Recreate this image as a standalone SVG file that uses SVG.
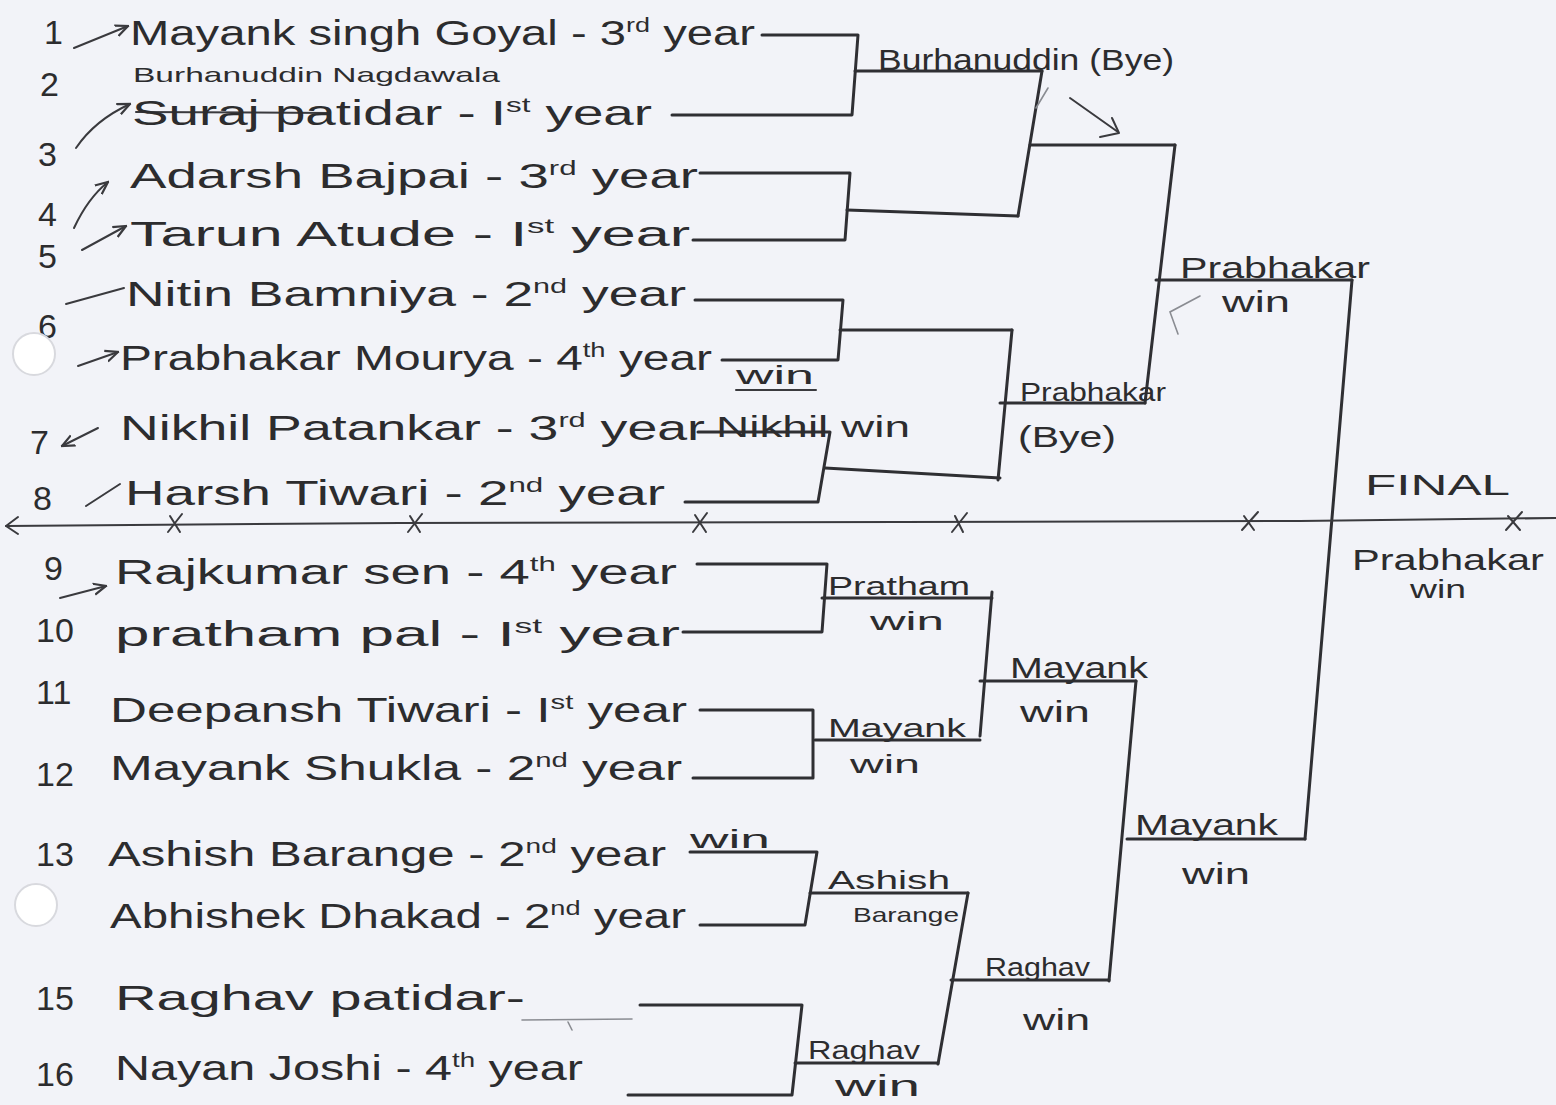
<svg xmlns="http://www.w3.org/2000/svg" width="1556" height="1105" viewBox="0 0 1556 1105">
<defs>
<style>
text{font-family:"Liberation Sans","DejaVu Sans",sans-serif;fill:#2c2c2e}
.nm{font-size:35px}
.num{font-size:34px}
.sm{font-size:21px}
.lb{font-size:29px}
.lbs{font-size:25px}
.sup{font-size:20px}
.ln{fill:none;stroke:#2f2f33;stroke-width:3;stroke-linecap:round;stroke-linejoin:round}
.thin{fill:none;stroke:#3a3a3e;stroke-width:2;stroke-linecap:round;stroke-linejoin:round}
.faint{fill:none;stroke:#8a8c92;stroke-width:1.6;stroke-linecap:round}
</style>
<marker id="ah" viewBox="0 0 10 10" refX="9" refY="5" markerWidth="7" markerHeight="7" orient="auto">
<path d="M0,1 L9,5 L0,9" fill="none" stroke="#3a3a3e" stroke-width="1.6"/>
</marker>
</defs>
<rect width="1556" height="1105" fill="#f2f3f8"/>

<!-- connectors -->
<g id="connectors">
<path class="ln" d="M762,35 H858 L852,115 H672"/>
<path class="ln" d="M855,71 H1042"/>
<path class="ln" d="M700,173 H850 L845,240 H693"/>
<path class="ln" d="M847,210 L1018,216"/>
<path class="ln" d="M695,300 H843 L838,360 H722"/>
<path class="ln" d="M840,330 H1012"/>
<path class="ln" d="M698,432 H830 L818,502 H685"/>
<path class="ln" d="M825,468 L1000,478"/>
<path class="ln" d="M1042,71 L1018,216"/>
<path class="ln" d="M1030,145 H1175"/>
<path class="ln" d="M1012,330 L998,480"/>
<path class="ln" d="M1000,403 H1145"/>
<path class="ln" d="M1175,145 L1145,403"/>
<path class="ln" d="M1156,280 H1352"/>
<path class="ln" d="M1352,280 L1305,839"/>
<path class="ln" d="M697,564 H827 L822,632 H683"/>
<path class="ln" d="M822,598 H992"/>
<path class="ln" d="M700,710 H813 L813,778 H693"/>
<path class="ln" d="M815,740 H980"/>
<path class="ln" d="M690,852 H817 L805,925 H700"/>
<path class="ln" d="M810,893 H968"/>
<path class="ln" d="M640,1005 H802 L792,1095 H628"/>
<path class="ln" d="M795,1063 H938"/>
<path class="ln" d="M992,592 L980,736"/>
<path class="ln" d="M980,681 H1136"/>
<path class="ln" d="M968,893 L938,1064"/>
<path class="ln" d="M951,980 H1109"/>
<path class="ln" d="M1136,681 L1109,981"/>
<path class="ln" d="M1127,839 H1305"/>
<!-- divider -->
<path class="thin" d="M6,526 L400,523 L900,522 L1300,521 L1556,518"/>
<path class="thin" d="M18,517 L6,526 L18,534"/>
<path class="thin" d="M168,532 L182,514 M170,516 L180,532"/>
<path class="thin" d="M408,532 L422,514 M410,516 L420,532"/>
<path class="thin" d="M693,532 L707,513 M695,515 L706,532"/>
<path class="thin" d="M952,532 L967,513 M955,516 L963,532"/>
<path class="thin" d="M1242,530 L1258,512 M1244,516 L1254,530"/>
<path class="thin" d="M1506,530 L1522,512 M1508,516 L1520,530"/>
<!-- arrow near Burhanuddin -->
<path class="thin" d="M1070,98 L1118,132"/>
<path class="thin" d="M1112,118 L1119,133 L1100,137"/>
<path class="faint" d="M1048,88 L1036,108"/>
<path class="faint" d="M1200,296 L1170,312 L1178,334"/>
<!-- number to name pointers -->
<path class="thin" d="M74,48 L128,26" marker-end="url(#ah)"/>
<path class="thin" d="M76,148 Q95,120 130,104" marker-end="url(#ah)"/>
<path class="thin" d="M74,228 Q88,198 108,182" marker-end="url(#ah)"/>
<path class="thin" d="M82,250 L126,226" marker-end="url(#ah)"/>
<path class="thin" d="M66,304 L124,288"/>
<path class="thin" d="M78,366 L118,352" marker-end="url(#ah)"/>
<path class="thin" d="M98,428 L62,446" marker-end="url(#ah)"/>
<path class="thin" d="M86,506 L120,484"/>
<path class="thin" d="M60,598 L106,586" marker-end="url(#ah)"/>
<path class="thin" d="M136,112 L330,113"/>
<path class="thin" d="M736,390 H816"/>
<path class="faint" d="M522,1020 L632,1019 M568,1022 L572,1030"/>
</g>

<!-- participants -->
<g id="p1"><text class="num" x="44" y="44">1</text>
<text class="nm" x="130" y="45" textLength="625" lengthAdjust="spacingAndGlyphs">Mayank singh Goyal - 3<tspan class="sup" dy="-13">rd</tspan><tspan dy="13"> year</tspan></text></g>
<g id="p2"><text class="num" x="40" y="96">2</text>
<text class="sm" x="133" y="82" textLength="367" lengthAdjust="spacingAndGlyphs">Burhanuddin Nagdawala</text>
<text class="nm" x="132" y="125" textLength="520" lengthAdjust="spacingAndGlyphs">Suraj patidar - I<tspan class="sup" dy="-13">st</tspan><tspan dy="13"> year</tspan></text></g>
<g id="p3"><text class="num" x="38" y="166">3</text>
<text class="nm" x="130" y="188" textLength="568" lengthAdjust="spacingAndGlyphs">Adarsh Bajpai - 3<tspan class="sup" dy="-13">rd</tspan><tspan dy="13"> year</tspan></text></g>
<g id="p4"><text class="num" x="38" y="226">4</text>
<text class="nm" x="130" y="246" textLength="560" lengthAdjust="spacingAndGlyphs">Tarun Atude - I<tspan class="sup" dy="-13">st</tspan><tspan dy="13"> year</tspan></text></g>
<g id="p5"><text class="num" x="38" y="268">5</text>
<text class="nm" x="126" y="306" textLength="560" lengthAdjust="spacingAndGlyphs">Nitin Bamniya - 2<tspan class="sup" dy="-13">nd</tspan><tspan dy="13"> year</tspan></text></g>
<g id="p6"><text class="num" x="38" y="338">6</text>
<text class="nm" x="120" y="370" textLength="592" lengthAdjust="spacingAndGlyphs">Prabhakar Mourya - 4<tspan class="sup" dy="-13">th</tspan><tspan dy="13"> year</tspan></text>
<text class="lbs" x="736" y="384" textLength="78" lengthAdjust="spacingAndGlyphs">win</text></g>
<g id="p7"><text class="num" x="30" y="454">7</text>
<text class="nm" x="120" y="440" textLength="585" lengthAdjust="spacingAndGlyphs">Nikhil Patankar - 3<tspan class="sup" dy="-13">rd</tspan><tspan dy="13"> year</tspan></text>
<text class="lb" x="716" y="437" textLength="194" lengthAdjust="spacingAndGlyphs">Nikhil win</text></g>
<g id="p8"><text class="num" x="33" y="510">8</text>
<text class="nm" x="125" y="505" textLength="540" lengthAdjust="spacingAndGlyphs">Harsh Tiwari - 2<tspan class="sup" dy="-13">nd</tspan><tspan dy="13"> year</tspan></text></g>
<g id="p9"><text class="num" x="44" y="580">9</text>
<text class="nm" x="115" y="584" textLength="562" lengthAdjust="spacingAndGlyphs">Rajkumar sen - 4<tspan class="sup" dy="-13">th</tspan><tspan dy="13"> year</tspan></text></g>
<g id="p10"><text class="num" x="36" y="642">10</text>
<text class="nm" x="115" y="646" textLength="565" lengthAdjust="spacingAndGlyphs">pratham pal - I<tspan class="sup" dy="-13">st</tspan><tspan dy="13"> year</tspan></text></g>
<g id="p11"><text class="num" x="36" y="704">11</text>
<text class="nm" x="110" y="722" textLength="577" lengthAdjust="spacingAndGlyphs">Deepansh Tiwari - I<tspan class="sup" dy="-13">st</tspan><tspan dy="13"> year</tspan></text></g>
<g id="p12"><text class="num" x="36" y="786">12</text>
<text class="nm" x="110" y="780" textLength="572" lengthAdjust="spacingAndGlyphs">Mayank Shukla - 2<tspan class="sup" dy="-13">nd</tspan><tspan dy="13"> year</tspan></text></g>
<g id="p13"><text class="num" x="36" y="866">13</text>
<text class="nm" x="108" y="866" textLength="558" lengthAdjust="spacingAndGlyphs">Ashish Barange - 2<tspan class="sup" dy="-13">nd</tspan><tspan dy="13"> year</tspan></text>
<text class="lbs" x="690" y="848" textLength="80" lengthAdjust="spacingAndGlyphs">win</text></g>
<g id="p14">
<text class="nm" x="110" y="928" textLength="576" lengthAdjust="spacingAndGlyphs">Abhishek Dhakad - 2<tspan class="sup" dy="-13">nd</tspan><tspan dy="13"> year</tspan></text></g>
<g id="p15"><text class="num" x="36" y="1010">15</text>
<text class="nm" x="115" y="1010" textLength="410" lengthAdjust="spacingAndGlyphs">Raghav patidar-</text></g>
<g id="p16"><text class="num" x="36" y="1086">16</text>
<text class="nm" x="115" y="1080" textLength="468" lengthAdjust="spacingAndGlyphs">Nayan Joshi - 4<tspan class="sup" dy="-13">th</tspan><tspan dy="13"> year</tspan></text></g>

<!-- winners -->
<g id="w-burhanuddin"><text class="lb" x="878" y="70" textLength="296" lengthAdjust="spacingAndGlyphs">Burhanuddin (Bye)</text></g>
<g id="w-prabhakar-bye"><text class="lbs" x="1020" y="401" textLength="146" lengthAdjust="spacingAndGlyphs">Prabhakar</text>
<text class="lb" x="1018" y="447" textLength="98" lengthAdjust="spacingAndGlyphs">(Bye)</text></g>
<g id="w-prabhakar-semi"><text class="lb" x="1180" y="278" textLength="190" lengthAdjust="spacingAndGlyphs">Prabhakar</text>
<text class="lb" x="1222" y="312" textLength="68" lengthAdjust="spacingAndGlyphs">win</text></g>
<g id="w-final"><text class="lb" x="1365" y="495" textLength="145" lengthAdjust="spacingAndGlyphs">FINAL</text>
<text class="lb" x="1352" y="570" textLength="192" lengthAdjust="spacingAndGlyphs">Prabhakar</text>
<text class="lbs" x="1410" y="598" textLength="56" lengthAdjust="spacingAndGlyphs">win</text></g>
<g id="w-pratham"><text class="lbs" x="828" y="595" textLength="142" lengthAdjust="spacingAndGlyphs">Pratham</text>
<text class="lbs" x="870" y="630" textLength="74" lengthAdjust="spacingAndGlyphs">win</text></g>
<g id="w-mayank-r1"><text class="lbs" x="828" y="737" textLength="138" lengthAdjust="spacingAndGlyphs">Mayank</text>
<text class="lbs" x="850" y="773" textLength="70" lengthAdjust="spacingAndGlyphs">win</text></g>
<g id="w-mayank-r2"><text class="lb" x="1010" y="678" textLength="138" lengthAdjust="spacingAndGlyphs">Mayank</text>
<text class="lb" x="1020" y="722" textLength="70" lengthAdjust="spacingAndGlyphs">win</text></g>
<g id="w-mayank-r3"><text class="lb" x="1135" y="835" textLength="143" lengthAdjust="spacingAndGlyphs">Mayank</text>
<text class="lb" x="1182" y="884" textLength="68" lengthAdjust="spacingAndGlyphs">win</text></g>
<g id="w-ashish"><text class="lbs" x="828" y="889" textLength="122" lengthAdjust="spacingAndGlyphs">Ashish</text>
<text class="sm" x="853" y="922" textLength="106" lengthAdjust="spacingAndGlyphs">Barange</text></g>
<g id="w-raghav-r1"><text class="lbs" x="808" y="1059" textLength="112" lengthAdjust="spacingAndGlyphs">Raghav</text>
<text class="lb" x="835" y="1096" textLength="85" lengthAdjust="spacingAndGlyphs">win</text></g>
<g id="w-raghav-r2"><text class="lbs" x="985" y="976" textLength="105" lengthAdjust="spacingAndGlyphs">Raghav</text>
<text class="lb" x="1023" y="1030" textLength="67" lengthAdjust="spacingAndGlyphs">win</text></g>

<!-- punch holes (on top of paper content) -->
<g id="holes">
<circle cx="34" cy="354" r="21" fill="#ffffff" stroke="#d8d9de" stroke-width="2"/>
<circle cx="36" cy="905" r="21" fill="#ffffff" stroke="#d8d9de" stroke-width="2"/>
</g>
</svg>
